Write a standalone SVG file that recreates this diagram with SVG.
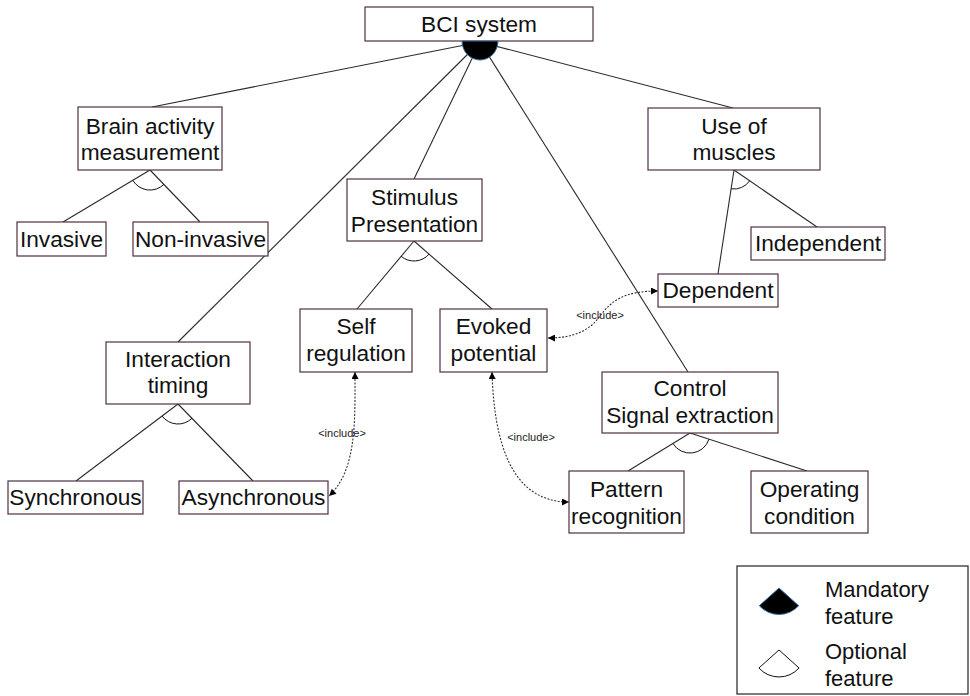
<svg xmlns="http://www.w3.org/2000/svg" width="970" height="696" viewBox="0 0 970 696">
  <style>
    .box { fill: #ffffff; stroke: #4e3045; stroke-width: 1.2; }
    .lbl { font-family: "Liberation Sans", Arial, sans-serif; font-size: 22.7px; fill: #111111; text-anchor: middle; }
    .leg { font-family: "Liberation Sans", Arial, sans-serif; font-size: 22px; fill: #111111; }
    .inc { font-family: "Liberation Sans", Arial, sans-serif; font-size: 11px; fill: #222222; text-anchor: middle; }
    .edge { stroke: #2a2a2a; stroke-width: 1.1; fill: none; }
    .opt { stroke: #111111; stroke-width: 1; fill: none; }
    .dep { stroke: #333333; stroke-width: 1.1; fill: none; stroke-dasharray: 2 1.5; marker-start: url(#arr); marker-end: url(#arr); }
  </style>
  <defs>
    <marker id="arr" viewBox="0 0 10 10" refX="10" refY="5" markerWidth="9" markerHeight="7" markerUnits="userSpaceOnUse" orient="auto-start-reverse">
      <path d="M0,0 L10,5 L0,10 z" fill="#000000"/>
    </marker>
  </defs>
  <rect width="970" height="696" fill="#ffffff"/>

  <!-- tree edges, optional arcs and include dependencies -->
  <g id="connectors">
    <line class="edge" x1="480" y1="42" x2="152" y2="107"/>
    <line class="edge" x1="480" y1="42" x2="178" y2="342"/>
    <line class="edge" x1="480" y1="42" x2="414" y2="179"/>
    <line class="edge" x1="480" y1="42" x2="688" y2="372"/>
    <line class="edge" x1="480" y1="42" x2="733" y2="108"/>

    <line class="edge" x1="150" y1="170" x2="63" y2="222"/>
    <line class="edge" x1="150" y1="170" x2="200" y2="222"/>
    <path class="opt" d="M132.8,180.3 A20,20 0 0 0 163.9,184.4"/>

    <line class="edge" x1="414" y1="241" x2="357" y2="309"/>
    <line class="edge" x1="414" y1="241" x2="492" y2="309"/>
    <path class="opt" d="M401.1,256.3 A20,20 0 0 0 429.1,254.1"/>

    <line class="edge" x1="178" y1="404" x2="76" y2="481"/>
    <line class="edge" x1="178" y1="404" x2="253" y2="481"/>
    <path class="opt" d="M162,416 A20,20 0 0 0 192,418.3"/>

    <line class="edge" x1="734" y1="170" x2="718" y2="274"/>
    <line class="edge" x1="734" y1="170" x2="817" y2="227"/>
    <path class="opt" d="M731.1,188.8 A19,19 0 0 0 749.7,180.8"/>

    <line class="edge" x1="690" y1="433" x2="628" y2="471"/>
    <line class="edge" x1="690" y1="433" x2="807" y2="471"/>
    <path class="opt" d="M672.9,443.5 A20,20 0 0 0 709,439.2"/>

    <path class="dep" d="M548,338 C575,338 590,330 600,316 C612,300 625,291 658,291"/>
    <text class="inc" x="600" y="319">&lt;include&gt;</text>
    <path class="dep" d="M355,372 C355,420 357,470 329,496"/>
    <text class="inc" x="342" y="437">&lt;include&gt;</text>
    <path class="dep" d="M492,372 C494,440 510,502 569,502"/>
    <text class="inc" x="531" y="441">&lt;include&gt;</text>
  </g>

  <g id="bci-system">
    <rect class="box" x="365" y="7" width="228" height="34"/>
    <text class="lbl" x="479" y="32">BCI system</text>
    <path d="M462,41 A18,19 0 0 0 498,41 Z" fill="#000000" stroke="#3a6ea5" stroke-width="1"/>
  </g>

  <g id="brain-activity">
    <rect class="box" x="78" y="107" width="144" height="63"/>
    <text class="lbl" x="150" y="134">Brain activity</text>
    <text class="lbl" x="150" y="160">measurement</text>
  </g>
  <g id="invasive">
    <rect class="box" x="17" y="222" width="89" height="34"/>
    <text class="lbl" x="61.5" y="247">Invasive</text>
  </g>
  <g id="non-invasive">
    <rect class="box" x="133" y="222" width="135" height="34"/>
    <text class="lbl" x="200.5" y="247">Non-invasive</text>
  </g>

  <g id="stimulus">
    <rect class="box" x="347" y="179" width="135" height="62"/>
    <text class="lbl" x="414.5" y="205">Stimulus</text>
    <text class="lbl" x="414.5" y="232">Presentation</text>
  </g>
  <g id="self-regulation">
    <rect class="box" x="300" y="309" width="112" height="63"/>
    <text class="lbl" x="356" y="334">Self</text>
    <text class="lbl" x="356" y="361">regulation</text>
  </g>
  <g id="evoked-potential">
    <rect class="box" x="440" y="309" width="107" height="63"/>
    <text class="lbl" x="493.5" y="334">Evoked</text>
    <text class="lbl" x="493.5" y="361">potential</text>
  </g>

  <g id="interaction-timing">
    <rect class="box" x="106" y="342" width="144" height="62"/>
    <text class="lbl" x="178" y="367">Interaction</text>
    <text class="lbl" x="178" y="393">timing</text>
  </g>
  <g id="synchronous">
    <rect class="box" x="8" y="481" width="135" height="33"/>
    <text class="lbl" x="75.5" y="505">Synchronous</text>
  </g>
  <g id="asynchronous">
    <rect class="box" x="179" y="481" width="149" height="33"/>
    <text class="lbl" x="253.5" y="505">Asynchronous</text>
  </g>

  <g id="use-of-muscles">
    <rect class="box" x="648" y="108" width="172" height="62"/>
    <text class="lbl" x="734" y="134">Use of</text>
    <text class="lbl" x="734" y="160">muscles</text>
  </g>
  <g id="independent">
    <rect class="box" x="751" y="227" width="134" height="33"/>
    <text class="lbl" x="818" y="251">Independent</text>
  </g>
  <g id="dependent">
    <rect class="box" x="658" y="274" width="120" height="33"/>
    <text class="lbl" x="718" y="298">Dependent</text>
  </g>

  <g id="control-signal">
    <rect class="box" x="602" y="372" width="176" height="61"/>
    <text class="lbl" x="690" y="396">Control</text>
    <text class="lbl" x="690" y="423">Signal extraction</text>
  </g>
  <g id="pattern-recognition">
    <rect class="box" x="569" y="471" width="115" height="62"/>
    <text class="lbl" x="626.5" y="497">Pattern</text>
    <text class="lbl" x="626.5" y="524">recognition</text>
  </g>
  <g id="operating-condition">
    <rect class="box" x="751" y="471" width="117" height="62"/>
    <text class="lbl" x="809.5" y="497">Operating</text>
    <text class="lbl" x="809.5" y="524">condition</text>
  </g>

  <g id="legend">
    <rect x="737" y="566" width="231" height="128" fill="#ffffff" stroke="#222222" stroke-width="1.2"/>
    <path d="M779,588 L759.3,605.7 A26.5,26.5 0 0 0 798.7,605.7 Z" fill="#000000" stroke="#3a6ea5" stroke-width="1"/>
    <text class="leg" x="825" y="597">Mandatory</text>
    <text class="leg" x="825" y="624">feature</text>
    <path d="M779,650 L758.9,668 A27,27 0 0 0 799.1,668 Z" fill="#ffffff" stroke="#111111" stroke-width="1"/>
    <text class="leg" x="825" y="659">Optional</text>
    <text class="leg" x="825" y="686">feature</text>
  </g>
</svg>
